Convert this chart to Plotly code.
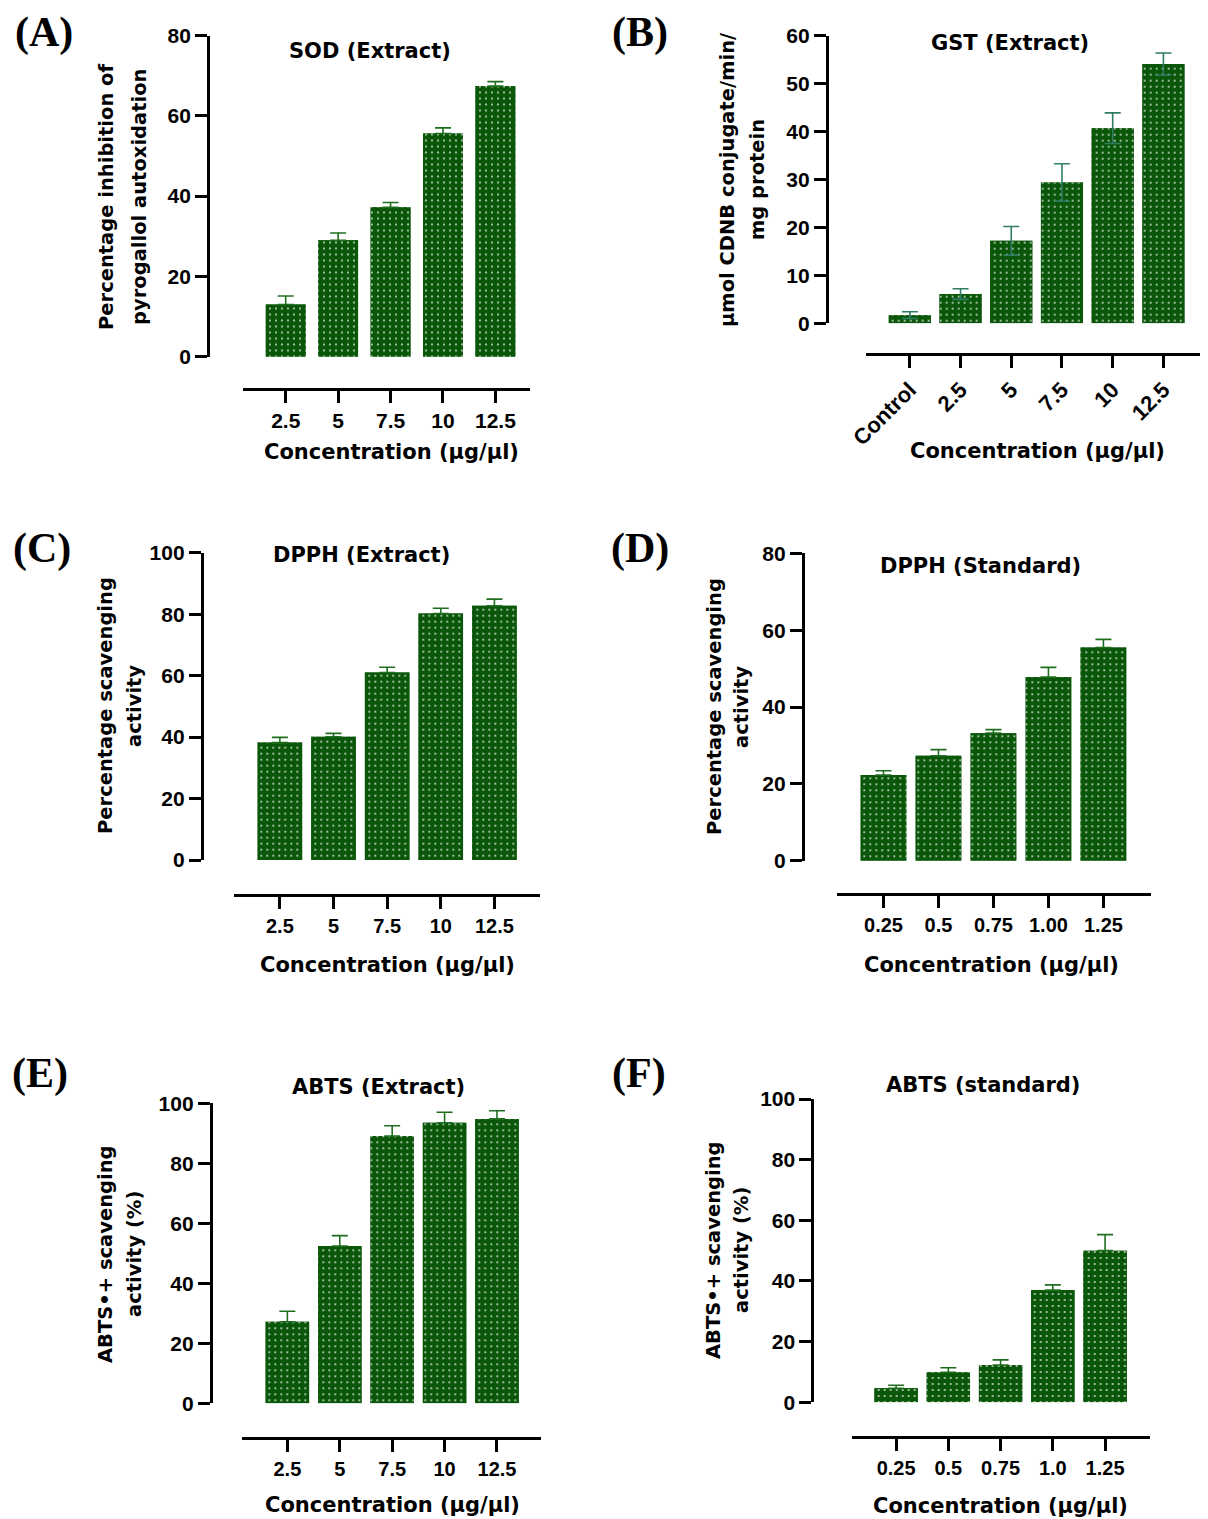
import plotly.graph_objects as go

# browser body keeps an 8px margin, so the figure is drawn 8px in from the window edge
OFF = 8
W, H = 1208 - OFF, 1519 - OFF

# ---------------- data ----------------
cat_extract = ["2.5", "5", "7.5", "10", "12.5"]
cat_gst = ["Control", "2.5", "5", "7.5", "10", "12.5"]
cat_std_dpph = ["0.25", "0.5", "0.75", "1.00", "1.25"]
cat_std_abts = ["0.25", "0.5", "0.75", "1.0", "1.25"]

sod_mean = [13.0, 29.0, 37.2, 55.6, 67.4]
sod_err = [2.1, 1.8, 1.2, 1.4, 1.1]

gst_mean = [1.7, 6.1, 17.2, 29.4, 40.7, 54.1]
gst_err = [0.7, 1.1, 3.0, 3.9, 3.2, 2.3]

dpph_ext_mean = [38.2, 40.1, 61.0, 80.2, 82.7]
dpph_ext_err = [1.7, 1.1, 1.7, 1.7, 2.2]

dpph_std_mean = [22.3, 27.3, 33.2, 47.8, 55.5]
dpph_std_err = [1.1, 1.6, 0.9, 2.5, 2.1]

abts_ext_mean = [27.2, 52.4, 89.1, 93.5, 94.8]
abts_ext_err = [3.5, 3.5, 3.4, 3.5, 2.7]

abts_std_mean = [4.6, 9.9, 12.3, 37.0, 50.0]
abts_std_err = [1.0, 1.5, 1.7, 1.7, 5.3]

titles = ["SOD (Extract)", "GST (Extract)", "DPPH (Extract)", "DPPH (Standard)",
          "ABTS (Extract)", "ABTS (standard)"]
ytitles = [("Percentage inhibition of", "pyrogallol autoxidation"),
           ("µmol CDNB conjugate/min/", "mg protein"),
           ("Percentage scavenging", "activity"),
           ("Percentage scavenging", "activity"),
           ("ABTS•+ scavenging", "activity (%)"),
           ("ABTS•+ scavenging", "activity (%)")]
xtitle = "Concentration (µg/µl)"
labels = ["(A)", "(B)", "(C)", "(D)", "(E)", "(F)"]

# ---------------- layout geometry (window pixels) ----------------
panels = [
    dict(cats=cat_extract, y=sod_mean, e=sod_err, sym=False, ymax=80, dtick=20,
         yline=208, ytop=35.5, ybot=356.7, xl=243, xr=530, xline=389, xr0=-0.815, xr1=4.66, bw=0.76,
         title=(370, 51), xt=(391, 452), yt=(106, 139, 197), lab=(44, 33), tickangle=0, xtsize=21),
    dict(cats=cat_gst, y=gst_mean, e=gst_err, sym=True, ymax=60, dtick=10,
         yline=826.7, ytop=35.7, ybot=323.3, xl=865.7, xr=1205, xline=354.3, xr0=-0.87, xr1=5.82, bw=0.83,
         title=(1010, 42.7), xt=(1037, 451), yt=(727, 757, 180), lab=(640, 33), tickangle=-45, xtsize=22),
    dict(cats=cat_extract, y=dpph_ext_mean, e=dpph_ext_err, sym=False, ymax=100, dtick=20,
         yline=201.7, ytop=552.7, ybot=860, xl=234.3, xr=540, xline=895, xr0=-0.85, xr1=4.85, bw=0.83,
         title=(361.7, 555), xt=(387, 965), yt=(106, 135, 706), lab=(42, 549), tickangle=0, xtsize=20),
    dict(cats=cat_std_dpph, y=dpph_std_mean, e=dpph_std_err, sym=False, ymax=80, dtick=20,
         yline=802.7, ytop=553.3, ybot=860.7, xl=837.3, xr=1150.7, xline=894, xr0=-0.84, xr1=4.86, bw=0.83,
         title=(980, 566), xt=(992, 965), yt=(714, 741, 707), lab=(640, 549), tickangle=0, xtsize=20),
    dict(cats=cat_extract, y=abts_ext_mean, e=abts_ext_err, sym=False, ymax=100, dtick=20,
         yline=210.7, ytop=1103.3, ybot=1403.3, xl=242.3, xr=541, xline=1437.7, xr0=-0.86, xr1=4.84, bw=0.83,
         title=(378, 1086.7), xt=(392, 1505), yt=(105, 134, 1254), lab=(40, 1073), tickangle=0, xtsize=20),
    dict(cats=cat_std_abts, y=abts_std_mean, e=abts_std_err, sym=False, ymax=100, dtick=20,
         yline=812.3, ytop=1099, ybot=1402.3, xl=851.7, xr=1150, xline=1436.7, xr0=-0.85, xr1=4.86, bw=0.83,
         title=(982.7, 1085), xt=(1000, 1506), yt=(713, 741, 1250), lab=(639, 1073), tickangle=0, xtsize=20),
]

BAR = "#0a570a"
ERR = "#1f6e1f"
ERR_B = "#2e7d64"
TICKFONT = dict(family="Liberation Sans, Arial, sans-serif", size=21, color="black", weight="bold")
TFONT = "DejaVu Sans, Verdana, sans-serif"


def X(px):
    return (px - OFF) / W


def Y(py):
    return 1 - (py - OFF) / H


fig = go.Figure()
annotations = []
layout = dict(template="none", width=W, height=H, margin=dict(l=0, r=0, t=0, b=0, pad=0, autoexpand=False),
              paper_bgcolor="white", plot_bgcolor="white", showlegend=False, barmode="overlay")

for i, p in enumerate(panels):
    k = "" if i == 0 else str(i + 1)
    if p["sym"]:
        err = dict(type="data", array=p["e"], visible=True, color=ERR_B, thickness=1.6, width=8)
    else:
        err = dict(type="data", array=p["e"], arrayminus=[0] * len(p["e"]), symmetric=False,
                   visible=True, color=ERR, thickness=1.6, width=8)
    # solid base bar
    fig.add_trace(go.Bar(
        x=p["cats"], y=p["y"], width=p["bw"], xaxis="x" + k, yaxis="y" + k,
        marker=dict(color=BAR, line=dict(width=0)), hoverinfo="skip"))
    # dotted pattern overlay + error bars
    fig.add_trace(go.Bar(
        x=p["cats"], y=p["y"], width=p["bw"], xaxis="x" + k, yaxis="y" + k,
        marker=dict(color=BAR, line=dict(width=0),
                    pattern=dict(shape=".", fgcolor="#dfe9df", bgcolor=BAR, size=6, solidity=0.07,
                                 fillmode="replace")),
        error_y=err, hoverinfo="skip"))

    layout["xaxis" + k] = dict(
        domain=[X(p["xl"]), X(p["xr"])], anchor="free", position=Y(p["xline"]), automargin=False,
        type="category", range=[p["xr0"], p["xr1"]], showline=True, linecolor="black", linewidth=2.8,
        ticks="outside", ticklen=12, tickwidth=2.8, tickcolor="black", showgrid=False, zeroline=False,
        tickangle=p["tickangle"], tickfont=dict(TICKFONT, size=p["xtsize"]), fixedrange=True)
    layout["yaxis" + k] = dict(
        domain=[Y(p["ybot"]), Y(p["ytop"])], anchor="free", position=X(p["yline"]), automargin=False,
        range=[0, p["ymax"]], dtick=p["dtick"], tick0=0, showline=True, linecolor="black", linewidth=2.8,
        ticks="outside", ticklen=12, tickwidth=2.8, tickcolor="black", showgrid=False, zeroline=False,
        tickfont=TICKFONT, fixedrange=True)

    tx, ty = p["title"]
    annotations.append(dict(text=titles[i], x=X(tx), y=Y(ty), xref="paper", yref="paper",
                            showarrow=False, xanchor="center", yanchor="middle",
                            font=dict(family=TFONT, size=21, color="black", weight="bold")))
    xx, xy = p["xt"]
    annotations.append(dict(text=xtitle, x=X(xx), y=Y(xy), xref="paper", yref="paper",
                            showarrow=False, xanchor="center", yanchor="middle",
                            font=dict(family=TFONT, size=21, color="black", weight="bold")))
    y1x, y2x, yy = p["yt"]
    for line, lx in zip(ytitles[i], (y1x, y2x)):
        annotations.append(dict(text=line, x=X(lx), y=Y(yy), xref="paper", yref="paper",
                                showarrow=False, xanchor="center", yanchor="middle", textangle=-90,
                                font=dict(family=TFONT, size=19.5, color="black", weight="bold")))
    lx, ly = p["lab"]
    annotations.append(dict(text=labels[i], x=X(lx), y=Y(ly), xref="paper", yref="paper",
                            showarrow=False, xanchor="center", yanchor="middle",
                            font=dict(family="Liberation Serif, Times New Roman, serif", size=42,
                                      color="black", weight="bold")))

layout["annotations"] = annotations
fig.update_layout(**layout)
fig.write_html("out.html")
